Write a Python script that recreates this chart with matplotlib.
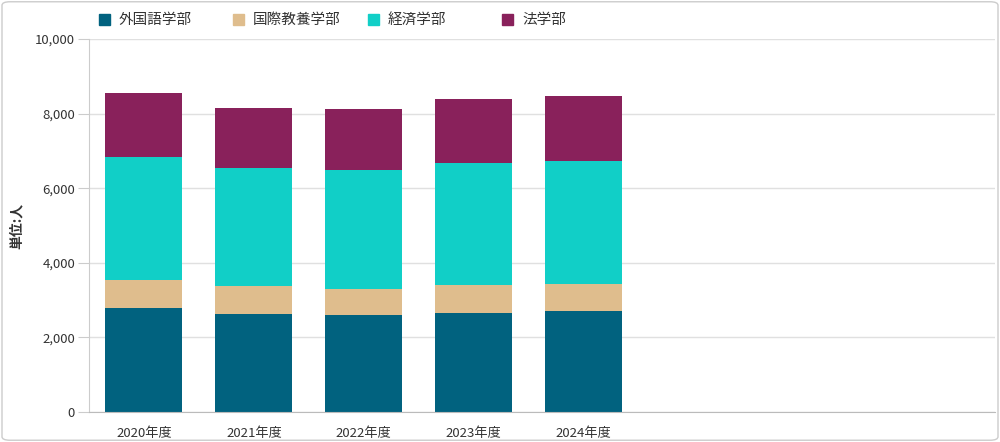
import matplotlib.pyplot as plt
from matplotlib.patches import FancyBboxPatch, Rectangle
import numpy as np

plt.rcParams['font.family'] = ['Noto Sans CJK JP', 'DejaVu Sans']

# Data
years = ['2020年度', '2021年度', '2022年度', '2023年度', '2024年度']
gaikokugo = [2780, 2640, 2600, 2665, 2700]
kokusai = [750, 730, 710, 740, 740]
keizai = [3310, 3165, 3175, 3275, 3300]
hogaku = [1705, 1610, 1640, 1705, 1740]

series = [('外国語学部', gaikokugo, '#01627f'),
          ('国際教養学部', kokusai, '#dfbd8d'),
          ('経済学部', keizai, '#11cfc7'),
          ('法学部', hogaku, '#89215b')]

fig = plt.figure(figsize=(10, 4.42), dpi=100)
ax = fig.add_axes([0.089, 0.0679, 0.906, 0.8439])

x = np.arange(len(years))
bottom = np.zeros(len(years))
for name, vals, color in series:
    ax.bar(x, vals, width=0.7, bottom=bottom, color=color, linewidth=0, zorder=2)
    bottom += np.array(vals)

# Axes styling
ax.set_xlim(-0.5, 7.74)
ax.set_ylim(0, 10000)
ax.set_yticks(range(0, 10001, 2000))
ax.set_yticklabels([f'{v:,}' for v in range(0, 10001, 2000)])
ax.set_xticks(x)
ax.set_xticklabels(years)
ax.grid(axis='y', color='#e0e0e0', linewidth=1, zorder=0)
for s in ['top', 'right']:
    ax.spines[s].set_visible(False)
ax.spines['left'].set_color('#cccccc')
ax.spines['bottom'].set_color('#bbbbbb')
ax.tick_params(axis='y', length=8, color='#cccccc', labelsize=9.5, labelcolor='#333333', pad=2)
ax.tick_params(axis='x', length=0, labelsize=9.5, labelcolor='#333333', pad=11)
ax.set_ylabel('単位:人', fontsize=10, color='#333333', fontweight='bold')
ax.yaxis.set_label_coords(-0.072, 0.5)

# Legend
leg_x = [99, 233, 368, 502]
for (name, vals, color), lx in zip(series, leg_x):
    fig.patches.append(Rectangle((lx / 1000, 1 - 25 / 442), 11 / 1000, 11 / 442,
                                 transform=fig.transFigure, color=color))
    fig.text((lx + 20) / 1000, 1 - 20 / 442, name, fontsize=10.5, color='#333333',
             va='center', ha='left')

# Border
fig.patches.append(FancyBboxPatch((0.002, 0.004), 0.996, 0.992,
                                  boxstyle='round,pad=0,rounding_size=0.008',
                                  transform=fig.transFigure, fill=False,
                                  edgecolor='#cccccc', linewidth=1))

fig.savefig('out.png', dpi=100)
